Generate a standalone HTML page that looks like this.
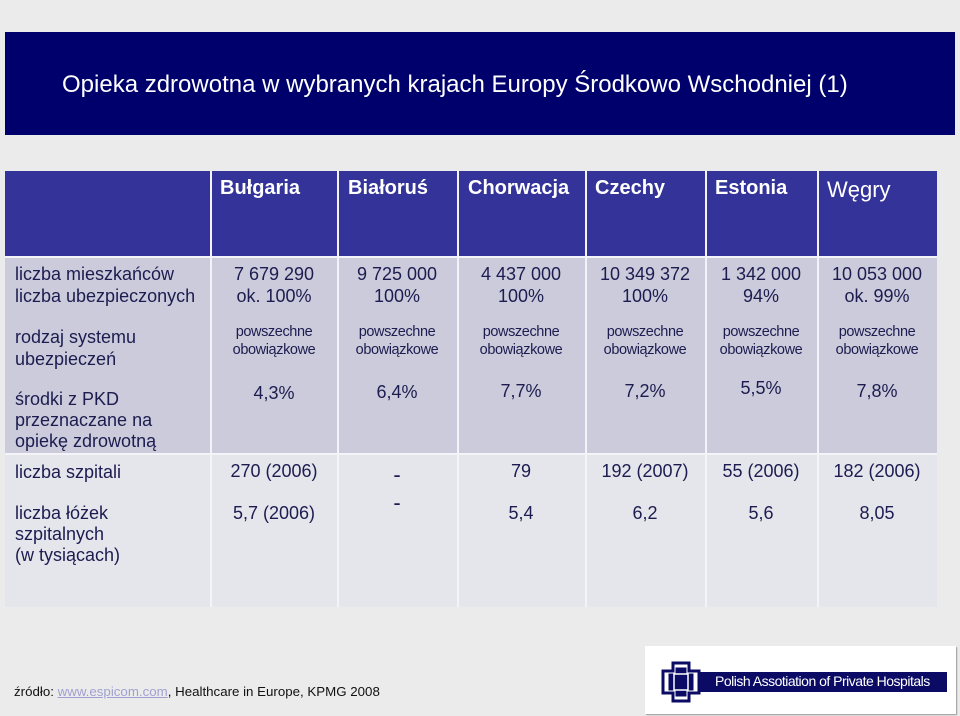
<!DOCTYPE html>
<html><head><meta charset="utf-8"><style>
body{margin:0;width:960px;height:716px;background:#ebebeb;position:relative;overflow:hidden;font-family:"Liberation Sans",sans-serif;color:#1c1c50}
.a{position:absolute}
.t{position:absolute;white-space:nowrap}
.c{text-align:center;transform:translateX(-50%)}
.h{color:#fff;font-weight:bold;font-size:20px;top:177px}
.v{font-size:18px;line-height:22px}
.s{font-size:14.5px;line-height:18px;letter-spacing:-0.4px}
.vl{position:absolute;width:2px;background:#f4f4f8;top:171px;height:436px}
</style></head><body>
<div class="a" style="left:5px;top:32px;width:950px;height:103px;background:#00006c"></div>
<div class="t" style="left:62px;top:71px;font-size:24px;color:#fff">Opieka zdrowotna w wybranych krajach Europy Środkowo Wschodniej (1)</div>
<div class="a" style="left:5px;top:171px;width:932px;height:86px;background:#333399"></div>
<div class="a" style="left:5px;top:258px;width:932px;height:196px;background:#cbcbdb"></div>
<div class="a" style="left:5px;top:455px;width:932px;height:152px;background:#e5e5ec"></div>
<div class="a" style="left:5px;top:256px;width:932px;height:2px;background:#f4f4f8"></div>
<div class="a" style="left:5px;top:453px;width:932px;height:2px;background:#f4f4f8"></div>
<div class="vl" style="left:210px"></div>
<div class="vl" style="left:337px"></div>
<div class="vl" style="left:457px"></div>
<div class="vl" style="left:585px"></div>
<div class="vl" style="left:705px"></div>
<div class="vl" style="left:817px"></div>

<div class="t h" style="left:220px">Bułgaria</div>
<div class="t h" style="left:348px">Białoruś</div>
<div class="t h" style="left:468px">Chorwacja</div>
<div class="t h" style="left:595px">Czechy</div>
<div class="t h" style="left:715px">Estonia</div>
<div class="t" style="left:827px;top:177px;color:#fff;font-size:22px">Węgry</div>

<div class="t v" style="left:15px;top:263px">liczba mieszkańców<br>liczba ubezpieczonych</div>
<div class="t v" style="left:15px;top:326px">rodzaj systemu<br>ubezpieczeń</div>
<div class="t v" style="left:15px;top:389px;line-height:21px">środki z PKD<br>przeznaczane na<br>opiekę zdrowotną</div>
<div class="t v" style="left:15px;top:461px">liczba szpitali</div>
<div class="t v" style="left:15px;top:503px;line-height:21px">liczba łóżek<br>szpitalnych<br>(w tysiącach)</div>

<div class="t v c" style="left:274px;top:263px">7 679 290<br>ok. 100%</div>
<div class="t v c" style="left:397px;top:263px">9 725 000<br>100%</div>
<div class="t v c" style="left:521px;top:263px">4 437 000<br>100%</div>
<div class="t v c" style="left:645px;top:263px">10 349 372<br>100%</div>
<div class="t v c" style="left:761px;top:263px">1 342 000<br>94%</div>
<div class="t v c" style="left:877px;top:263px">10 053 000<br>ok. 99%</div>

<div class="t s c" style="left:274px;top:323px">powszechne<br>obowiązkowe</div>
<div class="t s c" style="left:397px;top:323px">powszechne<br>obowiązkowe</div>
<div class="t s c" style="left:521px;top:323px">powszechne<br>obowiązkowe</div>
<div class="t s c" style="left:645px;top:323px">powszechne<br>obowiązkowe</div>
<div class="t s c" style="left:761px;top:323px">powszechne<br>obowiązkowe</div>
<div class="t s c" style="left:877px;top:323px">powszechne<br>obowiązkowe</div>

<div class="t v c" style="left:274px;top:382px">4,3%</div>
<div class="t v c" style="left:397px;top:381px">6,4%</div>
<div class="t v c" style="left:521px;top:380px">7,7%</div>
<div class="t v c" style="left:645px;top:380px">7,2%</div>
<div class="t v c" style="left:761px;top:377px">5,5%</div>
<div class="t v c" style="left:877px;top:380px">7,8%</div>

<div class="t v c" style="left:274px;top:460px">270 (2006)</div>
<div class="t c" style="left:397px;top:462px;font-size:22px">-</div>
<div class="t v c" style="left:521px;top:460px">79</div>
<div class="t v c" style="left:645px;top:460px">192 (2007)</div>
<div class="t v c" style="left:761px;top:460px">55 (2006)</div>
<div class="t v c" style="left:877px;top:460px">182 (2006)</div>

<div class="t v c" style="left:274px;top:502px">5,7 (2006)</div>
<div class="t c" style="left:397px;top:490px;font-size:22px">-</div>
<div class="t v c" style="left:521px;top:502px">5,4</div>
<div class="t v c" style="left:645px;top:502px">6,2</div>
<div class="t v c" style="left:761px;top:502px">5,6</div>
<div class="t v c" style="left:877px;top:502px">8,05</div>

<div class="t" style="left:14px;top:684px;font-size:13.3px;color:#111">źródło: <span style="color:#a0a0d0;text-decoration:underline">www.espicom.com</span>, Healthcare in Europe, KPMG 2008</div>

<div class="a" style="left:645px;top:646px;width:311px;height:68px;background:#fff;box-shadow:1px 1px 1px #999"></div>
<div class="a" style="left:700px;top:672px;width:247px;height:20px;background:#0b0b66"></div>
<div class="t" style="left:715px;top:673px;font-size:14px;color:#fff;letter-spacing:-0.5px">Polish Assotiation of Private Hospitals</div>
<svg class="a" style="left:661px;top:661px" width="42" height="42">
<path d="M12 2h16v8h10v22h-10v8h-16v-8h-10v-22h10z" fill="#fff" stroke="#0b0b66" stroke-width="3"/>
<path d="M15 7h10v6h7v16h-7v6h-10v-6h-7v-16h7z" fill="#0b0b66" stroke="#0b0b66" stroke-width="1"/>
<rect x="13" y="13" width="14" height="16" fill="#0b0b66" stroke="#fff" stroke-width="1.5"/>
</svg>
</body></html>
